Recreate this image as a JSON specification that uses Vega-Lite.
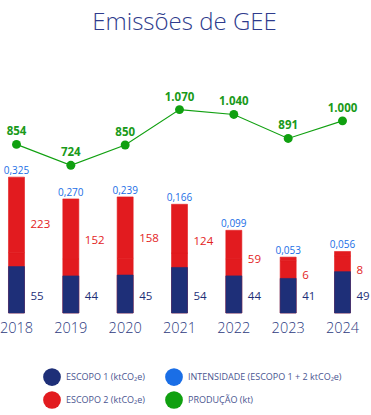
{
  "$schema": "https://vega.github.io/schema/vega-lite/v6.json",
  "width": 355,
  "height": 253,
  "autosize": {"type": "none"},
  "padding": {"left": 2, "top": 60, "right": 14, "bottom": 102},
  "config": {
    "view": {"stroke": null},
    "font": "Open Sans",
    "locale": {"number": {"decimal": ",", "thousands": ".", "grouping": [3], "currency": ["R$", ""]}}
  },
  "title": {"text": "Emissões de GEE", "fontSize": 24, "fontWeight": 300, "color": "#2e3b8c", "anchor": "middle", "offset": 6, "baseline": "alphabetic", "dx": 5},
  "data": {"values": [
    {"ano": "2018", "e1": 55, "e2": 223, "int": 0.325, "prod": 854},
    {"ano": "2019", "e1": 44, "e2": 152, "int": 0.270, "prod": 724},
    {"ano": "2020", "e1": 45, "e2": 158, "int": 0.239, "prod": 850},
    {"ano": "2021", "e1": 54, "e2": 124, "int": 0.166, "prod": 1070},
    {"ano": "2022", "e1": 44, "e2": 59, "int": 0.099, "prod": 1040},
    {"ano": "2023", "e1": 41, "e2": 6, "int": 0.053, "prod": 891},
    {"ano": "2024", "e1": 49, "e2": 8, "int": 0.056, "prod": 1000}
  ]},
  "encoding": {
    "x": {"field": "ano", "type": "ordinal", "scale": {"paddingInner": 0.7056, "paddingOuter": 0.1196},
      "axis": {"title": null, "domain": false, "ticks": false, "labelAngle": 0, "labelFontSize": 14.5, "labelFontWeight": 300, "labelColor": "#2d3a80", "labelPadding": 8}}
  },
  "layer": [
    {
      "transform": [{"fold": ["e1", "e2"]}],
      "encoding": {
        "y": {"field": "value", "type": "quantitative", "stack": "zero", "scale": {"type": "sqrt", "domain": [0, 964], "nice": false}, "axis": null},
        "detail": {"field": "key", "type": "nominal"},
        "order": {"field": "key", "type": "nominal", "sort": "ascending"}
      },
      "layer": [
        {
          "mark": {"type": "bar", "stroke": "#e21b1f", "strokeWidth": 0.6},
          "encoding": {
            "color": {"datum": "ESCOPO 2 (ktCO₂e)", "type": "nominal",
              "scale": {"domain": ["ESCOPO 1 (ktCO₂e)", "ESCOPO 2 (ktCO₂e)", "INTENSIDADE (ESCOPO 1 + 2 ktCO₂e)", "PRODUÇÃO (kt)"], "range": ["#1e2f78", "#e21b1f", "#1a6ee6", "#10a010"]},
              "legend": {"orient": "none", "legendX": 41, "legendY": 308, "columns": 2, "title": null, "symbolType": "circle", "symbolSize": 314, "symbolStrokeWidth": 0, "symbolOpacity": 1, "labelFontSize": 9, "labelColor": "#4a5591", "labelFont": "Open Sans", "rowPadding": 5, "columnPadding": 20, "labelOffset": 5, "padding": 0}}
          }
        },
        {
          "mark": {"type": "text", "align": "left", "baseline": "middle", "dx": 14, "dy": 17, "fontSize": 11.5, "fontWeight": 500, "color": "#e3231e"},
          "encoding": {
            "y": {"field": "value", "type": "quantitative", "stack": "zero", "bandPosition": 0.5, "scale": {"type": "sqrt", "domain": [0, 964], "nice": false}, "axis": null},
            "text": {"condition": {"test": "datum.key === 'e2'", "field": "e2", "type": "quantitative", "format": "d"}, "value": ""}
          }
        },
        {
          "mark": {"type": "text", "baseline": "alphabetic", "dy": -3, "fontSize": 10},
          "encoding": {
            "text": {"condition": {"test": "datum.key === 'e2'", "field": "int", "type": "quantitative", "format": ".3f"}, "value": ""},
            "color": {"datum": "INTENSIDADE (ESCOPO 1 + 2 ktCO₂e)", "type": "nominal"}
          }
        }
      ]
    },
    {
      "layer": [
        {
          "mark": {"type": "bar", "stroke": "#1e2f78", "strokeWidth": 0.6},
          "encoding": {
            "y": {"field": "e1", "type": "quantitative", "scale": {"domain": [0, 300], "nice": false}, "axis": null},
            "color": {"datum": "ESCOPO 1 (ktCO₂e)", "type": "nominal"}
          }
        },
        {
          "mark": {"type": "text", "align": "left", "baseline": "middle", "dx": 14, "dy": -16, "fontSize": 11.5, "fontWeight": 500, "color": "#1e2f78"},
          "encoding": {
            "y": {"datum": 0, "type": "quantitative", "scale": {"domain": [0, 300], "nice": false}, "axis": null},
            "text": {"field": "e1", "type": "quantitative"}
          }
        }
      ]
    },
    {
      "encoding": {
        "y": {"field": "prod", "type": "quantitative", "scale": {"domain": [-193, 1378], "nice": false, "zero": false}, "axis": null}
      },
      "layer": [
        {"mark": {"type": "line", "strokeWidth": 1.1}, "encoding": {"color": {"datum": "PRODUÇÃO (kt)", "type": "nominal"}}},
        {"mark": {"type": "point", "filled": true, "size": 80, "opacity": 1}, "encoding": {"color": {"datum": "PRODUÇÃO (kt)", "type": "nominal"}}},
        {"mark": {"type": "text", "baseline": "middle", "dy": -12, "fontSize": 11.5, "fontWeight": 700, "color": "#1a9a1a"},
          "encoding": {"text": {"field": "prod", "type": "quantitative", "format": ",d"}}}
      ]
    }
  ],
  "resolve": {"scale": {"y": "independent"}}
}
